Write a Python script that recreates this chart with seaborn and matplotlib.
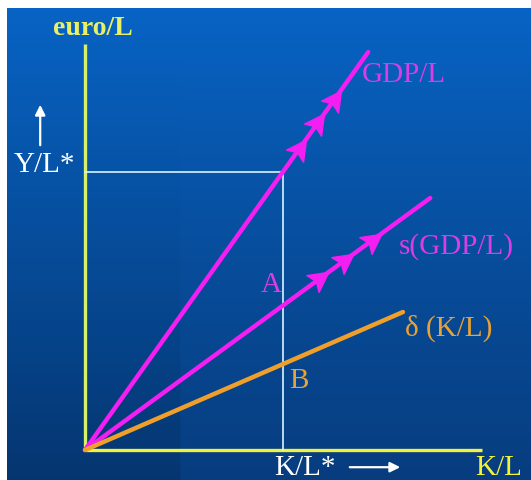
import numpy as np
import pandas as pd
import matplotlib
matplotlib.use("Agg")
import matplotlib.pyplot as plt
import seaborn as sns

# curves of the Solow diagram: straight rays from the origin
curves = ["GDP/L", "s(GDP/L)", "δ (K/L)"]
k_end = [7.08, 8.63, 7.95]
y_end = [9.95, 6.30, 3.45]
curve_colors = ["#f21ef2", "#f21ef2", "#f0a02a"]

# steady state
k_star = 4.95
y_star = 6.95

# where the little direction arrows sit on the two magenta curves
gdp_arrows = [5.38, 5.83, 6.25]
sav_arrows = [5.88, 6.50, 7.20]

slopes = [y / k for k, y in zip(k_end, y_end)]
rows = []
for name, k, y in zip(curves, k_end, y_end):
    rows.append({"curve": name, "k": 0.0, "y": 0.0})
    rows.append({"curve": name, "k": k, "y": y})
df = pd.DataFrame(rows)

sns.set_theme(style="white")
plt.rcParams["font.family"] = ["Liberation Serif", "DejaVu Serif"]

fig = plt.figure(figsize=(5.31, 4.81), dpi=100, facecolor="white")
ax = fig.add_axes([7 / 531, 0, 524 / 531, 472 / 481])
ax.set_xlim(-1.95, 11.15)
ax.set_ylim(-0.75, 11.05)
ax.axis("off")

# blue slide background
h, w = 240, 260
t = np.linspace(0, 1, h)[:, None, None]
top = np.array([0.03, 0.39, 0.77])
bot = np.array([0.02, 0.21, 0.44])
grad = top * (1 - t) + bot * t
grad = np.broadcast_to(grad, (h, w, 3)).copy()
xs = np.linspace(0, 1, w)
right = (xs > 0.33)[None, :, None] * (t ** 2) * np.array([0.01, 0.03, 0.06])
grad = np.clip(grad + right, 0, 1)
ax.imshow(grad, extent=[0, 1, 0, 1], transform=ax.transAxes, aspect="auto", zorder=0)

# axes of the diagram
ax.plot([0, 0], [0, 10.15], color="#d6f06a", lw=2.4, zorder=2, solid_capstyle="butt")
ax.plot([0, 9.93], [0, 0], color="#f2f23c", lw=2.4, zorder=2, solid_capstyle="butt")

# guide lines for the steady state
ax.plot([0, k_star, k_star], [y_star, y_star, 0], color="#d8f4ff", lw=1.2, zorder=2)

sns.lineplot(data=df, x="k", y="y", hue="curve", palette=dict(zip(curves, curve_colors)),
             lw=3.2, legend=False, ax=ax, zorder=3, sort=False)


def head(angle):
    v = np.array([[1, 0], [-0.9, 1.0], [-0.5, 0], [-0.9, -1.0], [1, 0]])
    a = np.deg2rad(angle)
    r = np.array([[np.cos(a), -np.sin(a)], [np.sin(a), np.cos(a)]])
    return v @ r.T


for ks, sl in [(gdp_arrows, slopes[0]), (sav_arrows, slopes[1])]:
    ks = np.array(ks)
    ang = np.degrees(np.arctan(sl))
    ax.plot(ks, sl * ks, ls="none", marker=head(ang), markersize=20,
            color="#f21ef2", mec="#f21ef2", zorder=4)

# up arrow beside Y/L* and right arrow beside K/L*
ax.annotate("", xy=(-1.12, 8.7), xytext=(-1.12, 7.55),
            arrowprops=dict(arrowstyle="-|>,head_length=0.5,head_width=0.25", color="white", lw=1.6))
ax.annotate("", xy=(7.95, -0.43), xytext=(6.55, -0.43),
            arrowprops=dict(arrowstyle="-|>,head_length=0.5,head_width=0.25", color="white", lw=1.6))

ax.text(0.19, 10.57, "euro/L", color="#eaf064", fontsize=20, fontweight="bold", ha="center", va="center")
ax.text(-1.02, 7.15, "Y/L*", color="white", fontsize=21, ha="center", va="center")
ax.text(5.5, -0.42, "K/L*", color="white", fontsize=21, ha="center", va="center")
ax.text(10.35, -0.42, "K/L", color="#f2f23c", fontsize=21, ha="center", va="center")
ax.text(7.98, 9.4, curves[0], color="#dc3ce6", fontsize=21, ha="center", va="center")
ax.text(9.28, 5.12, curves[1], color="#dc3ce6", fontsize=21, ha="center", va="center")
ax.text(9.08, 3.07, curves[2], color="#eaa232", fontsize=21, ha="center", va="center")
ax.text(4.65, 4.15, "A", color="#dc3ce6", fontsize=21, ha="center", va="center")
ax.text(5.35, 1.75, "B", color="#eaa232", fontsize=21, ha="center", va="center")

fig.savefig("out.png", dpi=100, facecolor="white")
